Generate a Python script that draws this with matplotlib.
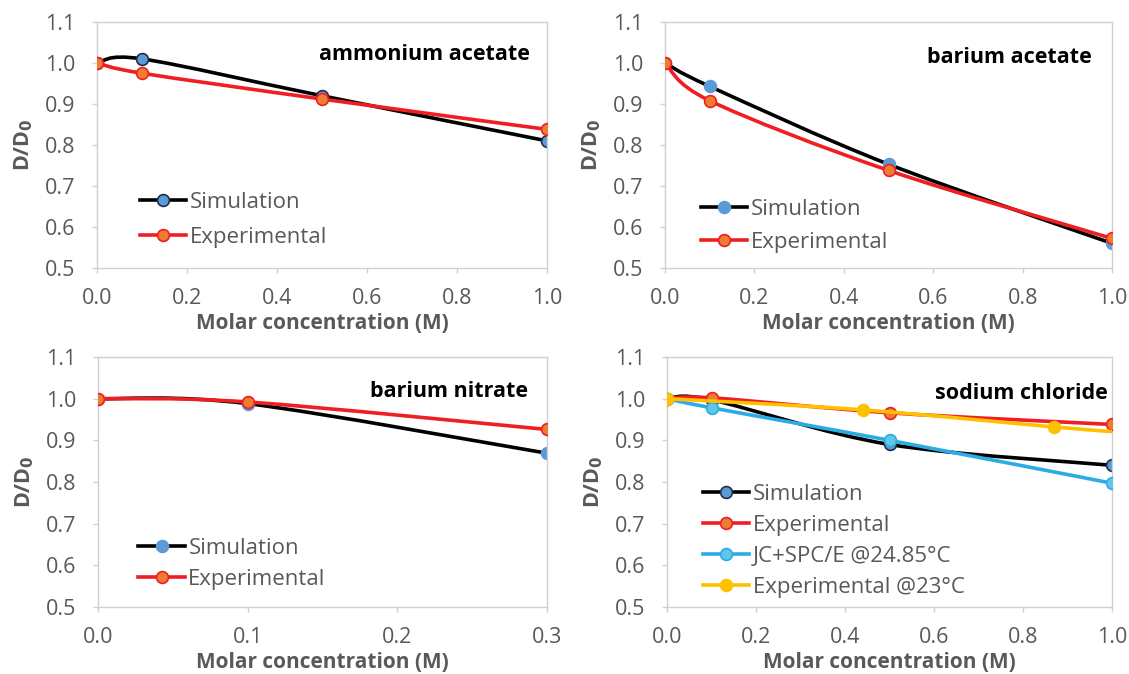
import numpy as np
import matplotlib
matplotlib.use("Agg")
import matplotlib.pyplot as plt
from matplotlib.path import Path
from matplotlib.patches import PathPatch
from matplotlib.lines import Line2D

plt.rcParams['font.family'] = ['Open Sans', 'DejaVu Sans']

# --- data ---
x_aa = [0.0, 0.1, 0.5, 1.0]
sim_aa = [1.0, 1.010, 0.920, 0.810]
exp_aa = [1.0, 0.975, 0.912, 0.838]

x_ba = [0.0, 0.1, 0.5, 1.0]
sim_ba = [1.0, 0.943, 0.753, 0.560]
exp_ba = [1.0, 0.908, 0.738, 0.572]

x_bn = [0.0, 0.1, 0.3]
sim_bn = [1.0, 0.988, 0.869]
exp_bn = [1.0, 0.992, 0.926]

x_nacl = [0.0, 0.1, 0.5, 1.0]
sim_nacl = [1.0, 0.997, 0.890, 0.840]
exp_nacl = [1.0, 1.002, 0.966, 0.938]
jc_nacl = [1.0, 0.978, 0.900, 0.797]
x_nacl23 = [0.0, 0.44, 0.87, 1.0]
exp23_nacl = [1.0, 0.973, 0.932, 0.921]

GRAY = '#595959'
BLACK = '#000000'
RED = '#f01e23'
BLUE_M = '#5b9bd5'
ORANGE_M = '#ed7d31'
CYAN = '#2bace2'
CYAN_M = '#62c6ea'
YELLOW = '#ffc000'


def smooth_path(x, y):
    # excel-like smoothed line (bezier through the points)
    pts = np.column_stack([x, y]).astype(float)
    n = len(pts)
    verts = [pts[0]]
    codes = [Path.MOVETO]
    for i in range(n - 1):
        p0 = pts[i - 1] if i > 0 else pts[i]
        p1 = pts[i]
        p2 = pts[i + 1]
        p3 = pts[i + 2] if i + 2 < n else pts[i + 1]
        c1 = p1 + (p2 - p0) / 6.0
        c2 = p2 - (p3 - p1) / 6.0
        verts += [c1, c2, p2]
        codes += [Path.CURVE4] * 3
    return Path(verts, codes)


def serie(ax, x, y, color, mface, medge, label, markevery=None, z=2):
    ax.add_patch(PathPatch(smooth_path(x, y), facecolor='none', edgecolor=color,
                           lw=2.6, zorder=z, capstyle='round', joinstyle='round'))
    xs = np.asarray(x) if markevery is None else np.asarray(x)[markevery]
    ys = np.asarray(y) if markevery is None else np.asarray(y)[markevery]
    ax.plot(xs, ys, ls='none', marker='o', ms=8.5, mfc=mface, mec=medge, mew=1.2, zorder=z + 0.1)
    return Line2D([], [], color=color, lw=2.6, marker='o', ms=8.5, mfc=mface, mec=medge,
                  mew=1.2, label=label)


def style(ax, xmax, xstep, name, name_pos):
    ax.set_xlim(0, xmax)
    ax.set_ylim(0.5, 1.1)
    ax.set_xticks(np.arange(0, xmax + 1e-9, xstep))
    ax.set_yticks(np.arange(0.5, 1.1001, 0.1))
    ax.xaxis.set_major_formatter(plt.FormatStrFormatter('%.1f'))
    ax.yaxis.set_major_formatter(plt.FormatStrFormatter('%.1f'))
    ax.tick_params(length=3.5, width=1.0, color='#d0d0d0', labelsize=15.5, labelcolor=GRAY)
    ax.tick_params(axis='x', pad=11)
    ax.tick_params(axis='y', pad=12)
    for s in ax.spines.values():
        s.set_color('#d0d0d0')
        s.set_linewidth(1.0)
    ax.set_xlabel('Molar concentration (M)', fontsize=15, fontweight='bold', color=GRAY, labelpad=3)
    ax.set_ylabel('D/D$_\\mathbf{0}$', fontsize=15.5, fontweight='bold', color=GRAY, labelpad=7)
    ax.text(name_pos[0], name_pos[1], name, transform=ax.transAxes, ha='right', va='center',
            fontsize=15.5, fontweight='bold', color='black')


def legend(ax, h, anchor, spacing):
    ax.legend(handles=h, loc='lower left', bbox_to_anchor=anchor, frameon=False,
              fontsize=16, labelcolor=GRAY, handlelength=2.1, handletextpad=0.15,
              labelspacing=spacing, borderaxespad=0)


fig = plt.figure(figsize=(11.29, 6.74), dpi=100)
ax1 = fig.add_axes([0.0859, 0.6024, 0.3986, 0.365])
ax2 = fig.add_axes([0.5890, 0.6024, 0.3960, 0.365])
ax3 = fig.add_axes([0.0868, 0.0994, 0.3977, 0.371])
ax4 = fig.add_axes([0.5908, 0.0994, 0.3942, 0.371])

# ammonium acetate
h = [serie(ax1, x_aa, sim_aa, BLACK, BLUE_M, '#1f2f4a', 'Simulation', z=2),
     serie(ax1, x_aa, exp_aa, RED, ORANGE_M, RED, 'Experimental', z=3)]
style(ax1, 1.0, 0.2, 'ammonium acetate', (0.962, 0.866))
legend(ax1, h, (0.075, 0.045), 0.63)

# barium acetate
h = [serie(ax2, x_ba, sim_ba, BLACK, BLUE_M, BLUE_M, 'Simulation', z=2),
     serie(ax2, x_ba, exp_ba, RED, ORANGE_M, RED, 'Experimental', z=3)]
style(ax2, 1.0, 0.2, 'barium acetate', (0.955, 0.854))
legend(ax2, h, (0.06, 0.025), 0.53)

# barium nitrate
h = [serie(ax3, x_bn, sim_bn, BLACK, BLUE_M, BLUE_M, 'Simulation', z=2),
     serie(ax3, x_bn, exp_bn, RED, ORANGE_M, RED, 'Experimental', z=3)]
style(ax3, 0.3, 0.1, 'barium nitrate', (0.958, 0.86))
legend(ax3, h, (0.07, 0.034), 0.45)

# sodium chloride
h = [serie(ax4, x_nacl, sim_nacl, BLACK, BLUE_M, '#1f2f4a', 'Simulation', z=2),
     serie(ax4, x_nacl, exp_nacl, RED, ORANGE_M, RED, 'Experimental', z=3),
     serie(ax4, x_nacl, jc_nacl, CYAN, CYAN_M, CYAN, 'JC+SPC/E @24.85°C', z=4),
     serie(ax4, x_nacl23, exp23_nacl, YELLOW, YELLOW, YELLOW, 'Experimental @23°C',
           markevery=[0, 1, 2], z=5)]
style(ax4, 1.0, 0.2, 'sodium chloride', (0.99, 0.852))
legend(ax4, h, (0.06, 0.002), 0.45)

fig.savefig('out.png', dpi=100)
